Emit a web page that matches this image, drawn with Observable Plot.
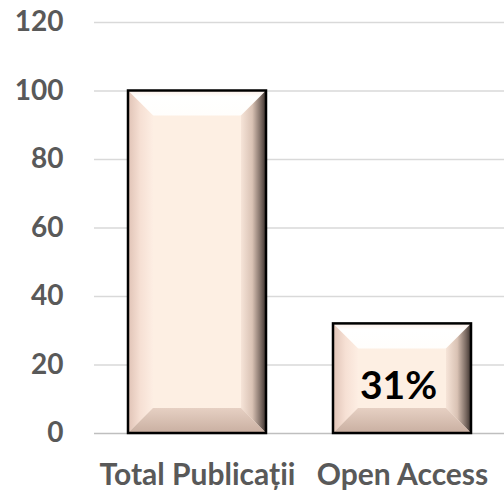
<!DOCTYPE html>
<html><head><meta charset="utf-8">
<script src="https://cdn.jsdelivr.net/npm/d3@7"></script>
<script src="https://cdn.jsdelivr.net/npm/@observablehq/plot@0.6"></script>
<style>body{margin:0;background:#fff}</style>
</head><body><div id="chart"></div>
<script>
const categories = ["Total Publicații", "Open Access"];
const values = [100, 32];
const labels = ["", "31%"];
const yTicks = [0, 20, 40, 60, 80, 100, 120];

const data = categories.map((c, i) => ({category: c, value: values[i], label: labels[i]}));

const chart = Plot.plot({
  width: 504, height: 492,
  marginLeft: 94, marginRight: 0, marginTop: 22, marginBottom: 59,
  style: {fontFamily: "Lato", fontWeight: "bold", fontSize: "28px", color: "#595959", background: "#fff"},
  x: {domain: categories, paddingInner: 0.327, paddingOuter: 0.163, label: null, tickSize: 0, tickPadding: 30},
  y: {domain: [0, 120], ticks: yTicks, label: null, tickSize: 0, tickPadding: 31},
  marks: [
    Plot.ruleY(yTicks.filter(t => t > 0), {stroke: "#D9D9D9", strokeWidth: 1.3}),
    Plot.ruleY([0], {stroke: "#BFBFBF", strokeWidth: 1.5}),
    Plot.barY(data, {x: "category", y: "value", fill: "#FDEFE3"}),
    Plot.text(data, {x: "category", y: d => d.value / 2, text: "label", fontSize: 39, fontWeight: "bold", fill: "#000", dy: 8, dx: -4})
  ]
});

// bevel decoration derived from the rendered bar rects
const svg = d3.select(chart.tagName.toLowerCase() === "svg" ? chart : chart.querySelector("svg"));
svg.selectAll('g[aria-label="x-axis tick label"] text, g[aria-label="x-axis"] text').style("font-size", "30px");
const defs = svg.insert("defs", ":first-child");
function grad(id, x2, y2, stops) {
  const g = defs.append("linearGradient").attr("id", id).attr("x1", 0).attr("y1", 0).attr("x2", x2).attr("y2", y2);
  stops.forEach(([o, c]) => g.append("stop").attr("offset", o).attr("stop-color", c));
}
grad("gTop", 0, 1, [[0, "#FCEFE8"], [0.25, "#FFFFFF"], [1, "#FFFEFC"]]);
grad("gLeft", 1, 0, [[0, "#E0C3B6"], [0.5, "#F6E0D4"], [1, "#FDEEE3"]]);
grad("gRight", 1, 0, [[0, "#F6E4D8"], [0.45, "#D9C2B4"], [0.8, "#7A6A62"], [1, "#3A302C"]]);
grad("gBottom", 0, 1, [[0, "#E6D0C3"], [1, "#C9AFA1"]]);

svg.selectAll('g[aria-label="bar"] rect').each(function() {
  const r = d3.select(this);
  const x = +r.attr("x"), y = +r.attr("y"), w = +r.attr("width"), h = +r.attr("height");
  const b = Math.min(25, w / 2, h / 2);
  const p = d3.select(this.parentNode);
  const poly = (pts, fill) => p.append("polygon").attr("points", pts.map(q => q.join(",")).join(" ")).attr("fill", fill);
  poly([[x, y], [x + w, y], [x + w - b, y + b], [x + b, y + b]], "url(#gTop)");
  poly([[x, y], [x + b, y + b], [x + b, y + h - b], [x, y + h]], "url(#gLeft)");
  poly([[x + w - b, y + b], [x + w, y], [x + w, y + h], [x + w - b, y + h - b]], "url(#gRight)");
  poly([[x, y + h], [x + b, y + h - b], [x + w - b, y + h - b], [x + w, y + h]], "url(#gBottom)");
  p.append("rect").attr("x", x).attr("y", y).attr("width", w).attr("height", h)
    .attr("fill", "none").attr("stroke", "#000").attr("stroke-width", 2.5);
});

document.getElementById("chart").appendChild(chart);
</script>
</body></html>
